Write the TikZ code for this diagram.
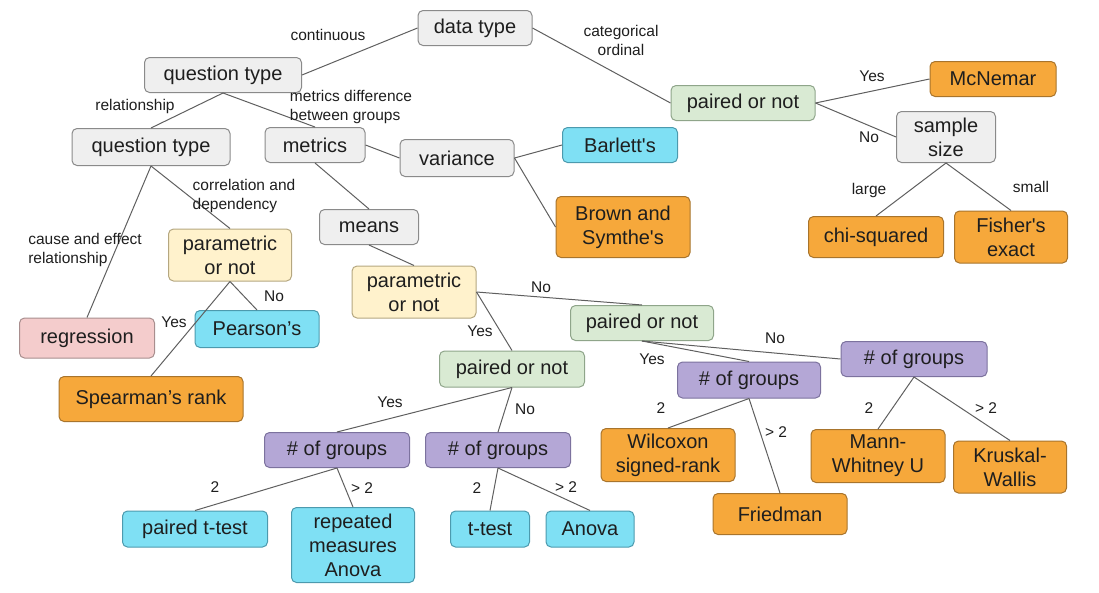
\documentclass[tikz,border=0pt]{standalone}
\usepackage{fontspec}
\setmainfont{Liberation Sans}
\definecolor{gfill}{HTML}{EFEFEF}\definecolor{gline}{HTML}{8A8A8A}
\definecolor{grfill}{HTML}{D9EAD3}\definecolor{grline}{HTML}{8FA58A}
\definecolor{yfill}{HTML}{FFF2CC}\definecolor{yline}{HTML}{B5A780}
\definecolor{ofill}{HTML}{F6A83B}\definecolor{oline}{HTML}{A8742C}
\definecolor{cfill}{HTML}{7FE0F4}\definecolor{cline}{HTML}{4C9AAE}
\definecolor{pfill}{HTML}{B4A7D6}\definecolor{pline}{HTML}{7C729E}
\definecolor{pkfill}{HTML}{F4CCCC}\definecolor{pkline}{HTML}{A88E8E}
\definecolor{edgec}{HTML}{5F5F5F}
\definecolor{txt}{HTML}{1E1E1E}
\tikzset{
  box/.style={rounded corners=5pt, line width=1pt, align=center, inner sep=0pt,
    text=txt, font=\fontsize{20}{24}\selectfont},
  sz/.style 2 args={minimum width=#1pt, minimum height=#2pt},
  graybox/.style={box, fill=gfill, draw=gline},
  greenbox/.style={box, fill=grfill, draw=grline},
  yellowbox/.style={box, fill=yfill, draw=yline},
  orangebox/.style={box, fill=ofill, draw=oline},
  cyanbox/.style={box, fill=cfill, draw=cline},
  purplebox/.style={box, fill=pfill, draw=pline},
  pinkbox/.style={box, fill=pkfill, draw=pkline},
  lbl/.style={text=txt, font=\fontsize{15.5}{19}\selectfont, inner sep=0pt},
  lbll/.style={lbl, align=left},
  edge/.style={draw=edgec, line width=1pt},
}
\begin{document}
\begin{tikzpicture}[x=1pt, y=-1pt]
\useasboundingbox (0,0) rectangle (1099,592);
% nodes
\node[graybox, sz={114}{35}] (dt) at (475,28) {data type};
\node[graybox, sz={157}{35}] (qt1) at (223,75) {question type};
\node[graybox, sz={158}{37}] (qt2) at (151,147) {question type};
\node[graybox, sz={100}{35}] (met) at (315,145) {metrics};
\node[graybox, sz={114}{37}] (var) at (457,158) {variance};
\node[graybox, sz={99}{35}] (means) at (369,227) {means};
\node[yellowbox, sz={123}{52}] (parL) at (230,255) {parametric\\or not};
\node[yellowbox, sz={124}{52}] (parM) at (414,292) {parametric\\or not};
\node[greenbox, sz={144}{35}] (pairT) at (743,103) {paired or not};
\node[orangebox, sz={126}{35}] (mcn) at (993,79) {McNemar};
\node[graybox, sz={99}{51}] (ss) at (946,137) {sample\\size};
\node[cyanbox, sz={115}{35}] (bar) at (620,145) {Barlett\textquotesingle s};
\node[orangebox, sz={134}{61}] (brown) at (623,227) {Brown and\\Symthe\textquotesingle s};
\node[orangebox, sz={135}{41}] (chi) at (876,237) {chi-squared};
\node[orangebox, sz={113}{52}] (fish) at (1011,237) {Fisher\textquotesingle s\\exact};
\node[pinkbox, sz={135}{40}] (reg) at (87,338) {regression};
\node[cyanbox, sz={124}{37}] (pear) at (257,329) {Pearson’s};
\node[orangebox, sz={184}{45}] (spear) at (151,399) {Spearman’s rank};
\node[greenbox, sz={145}{36}] (pairM) at (512,369) {paired or not};
\node[purplebox, sz={145}{35}] (g1) at (337,450) {\# of groups};
\node[purplebox, sz={145}{35}] (g2) at (498,450) {\# of groups};
\node[cyanbox, sz={145}{36}] (ptt) at (195,529) {paired t-test};
\node[cyanbox, sz={123}{75}] (rma) at (353,545) {repeated\\measures\\Anova};
\node[cyanbox, sz={79}{36}] (tt) at (490,529) {t-test};
\node[cyanbox, sz={88}{36}] (anova) at (590,529) {Anova};
\node[greenbox, sz={143}{35}] (pairR) at (642,323) {paired or not};
\node[purplebox, sz={143}{36}] (gY) at (749,380) {\# of groups};
\node[purplebox, sz={146}{35}] (gN) at (914,359) {\# of groups};
\node[orangebox, sz={134}{53}] (wil) at (668,455) {Wilcoxon\\signed-rank};
\node[orangebox, sz={134}{41}] (fried) at (780,514) {Friedman};
\node[orangebox, sz={134}{53}] (mann) at (878,456) {Mann-\\Whitney U};
\node[orangebox, sz={113}{52}] (krus) at (1010,467) {Kruskal-\\Wallis};
% edges
\draw[edge] (dt.west) -- (qt1.east);
\draw[edge] (dt.east) -- (pairT.west);
\draw[edge] (qt1.south) -- (qt2.north);
\draw[edge] (qt1.south) -- (met.north);
\draw[edge] (met.east) -- (var.west);
\draw[edge] (met.south) -- (means.north);
\draw[edge] (var.east) -- (bar.west);
\draw[edge] (var.east) -- (brown.west);
\draw[edge] (pairT.east) -- (mcn.west);
\draw[edge] (pairT.east) -- (ss.west);
\draw[edge] (ss.south) -- (chi.north);
\draw[edge] (ss.south) -- (fish.north);
\draw[edge] (qt2.south) -- (reg.north);
\draw[edge] (qt2.south) -- (parL.north);
\draw[edge] (parL.south) -- (spear.north);
\draw[edge] (parL.south) -- (pear.north);
\draw[edge] (means.south) -- (parM.north);
\draw[edge] (parM.east) -- (pairM.north);
\draw[edge] (parM.east) -- (pairR.north);
\draw[edge] (pairM.south) -- (g1.north);
\draw[edge] (pairM.south) -- (g2.north);
\draw[edge] (g1.south) -- (ptt.north);
\draw[edge] (g1.south) -- (rma.north);
\draw[edge] (g2.south) -- (tt.north);
\draw[edge] (g2.south) -- (anova.north);
\draw[edge] (pairR.south) -- (gY.north);
\draw[edge] (pairR.south) -- (gN.west);
\draw[edge] (gY.south) -- (wil.north);
\draw[edge] (gY.south) -- (fried.north);
\draw[edge] (gN.south) -- (mann.north);
\draw[edge] (gN.south) -- (krus.north);
% labels
\node[lbl] (l1) at (328,35) {continuous};
\node[lbl, align=center] (l2) at (621,40) {categorical\\ordinal};
\node[lbl] (l3) at (135,106) {relationship};
\node[lbll] (l4) at (351,107) {metrics difference\\between groups};
\node[lbll] (l5) at (244,196) {correlation and\\dependency};
\node[lbll] (l6) at (85,250) {cause and effect\\relationship};
\node[lbl] (l7) at (274,296) {No};
\node[lbl] (l8) at (174,322) {Yes};
\node[lbl] (l9) at (541,287) {No};
\node[lbl] (l10) at (480,331) {Yes};
\node[lbl] (l11) at (872,76) {Yes};
\node[lbl] (l12) at (869,137) {No};
\node[lbl] (l13) at (869,190) {large};
\node[lbl] (l14) at (1031,187) {small};
\node[lbl] (l15) at (390,402) {Yes};
\node[lbl] (l16) at (525,409) {No};
\node[lbl] (l17) at (215,487) {2};
\node[lbl] (l18) at (362,488) {> 2};
\node[lbl] (l19) at (477,488) {2};
\node[lbl] (l20) at (566,487) {> 2};
\node[lbl] (l21) at (652,359) {Yes};
\node[lbl] (l22) at (775,338) {No};
\node[lbl] (l23) at (661,408) {2};
\node[lbl] (l24) at (776,432) {> 2};
\node[lbl] (l25) at (869,408) {2};
\node[lbl] (l26) at (986,408) {> 2};
\end{tikzpicture}
\end{document}
